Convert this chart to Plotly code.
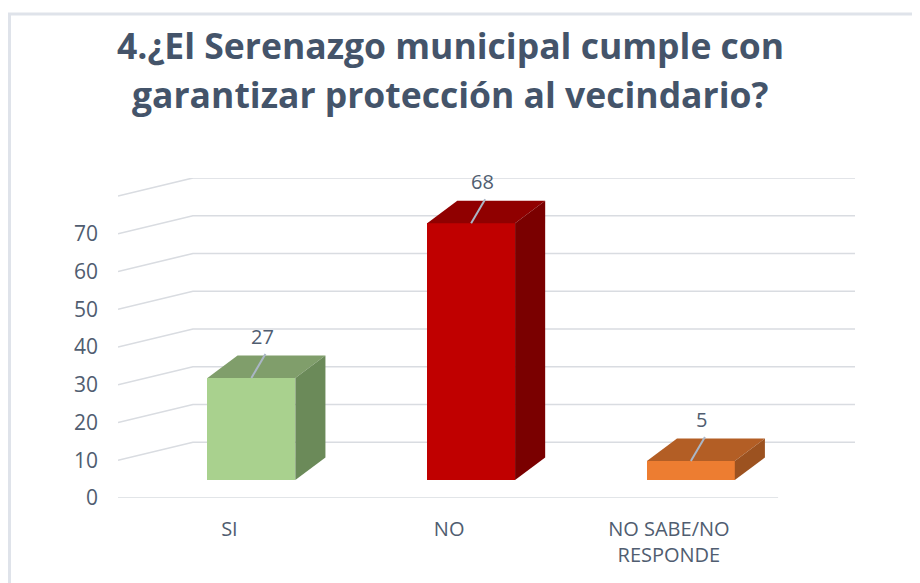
import plotly.graph_objects as go

# ---- data ----
categories = ["SI", "NO", "NO SABE/NO<br>RESPONDE"]
values = [27, 68, 5]
front_colors = ["#A9D18E", "#C00000", "#ED7D31"]
top_colors = ["#809E6B", "#900000", "#B35E25"]
side_colors = ["#6B8A59", "#7A0000", "#9C5220"]
y_ticks = [0, 10, 20, 30, 40, 50, 60, 70]
grid_levels = [0, 10, 20, 30, 40, 50, 60, 70, 80]
title_lines = ["4.¿El Serenazgo municipal cumple con",
               "garantizar protección al vecindario?"]

# ---- geometry / style constants (3-D look) ----
X_MIN, X_MAX = -0.607, 2.747      # x-axis range (category units)
Y_MAX = 80
FRONT_OFF = -4.77                 # front floor plane offset (value units)
WALL_DX = 0.341                   # depth of the wall (category units)
FLOOR_RIGHT = 2.397
BAR_W = 0.4
BAR_DX = 0.137                    # bar depth in x
BAR_DY = 5.96                     # bar depth in y
LEAD_DX, LEAD_DY = 0.064, 6.4
LABEL_SHIFT = -0.1
TXT = "#505D70"
GRID = "#D9DCE1"
FONT = "Open Sans"

fig = go.Figure()

# gridlines (side wall diagonals + back wall), kept below the bars
shapes = []
for v in grid_levels:
    if v == 0:
        path = f"M {X_MIN} {FRONT_OFF} L {FLOOR_RIGHT} {FRONT_OFF}"
    else:
        path = (f"M {X_MIN} {v + FRONT_OFF} L {X_MIN + WALL_DX} {v} "
                f"L {X_MAX} {v}")
    shapes.append(dict(type="path", xref="x", yref="y", path=path,
                       layer="below", line=dict(color=GRID, width=1.6)))

# chart frame
shapes.append(dict(type="path", xref="paper", yref="paper",
                   path="M -0.1472 -0.4 L -0.1472 1.5125 L 1.2 1.5125",
                   line=dict(color="#DFE3EA", width=3)))

positions = list(range(len(categories)))

# front faces
fig.add_trace(go.Bar(x=positions, y=values, width=BAR_W,
                     marker=dict(color=front_colors, line=dict(width=0)),
                     showlegend=False))

# top and side faces, leader lines and data labels
for p, v, tc, sc in zip(positions, values, top_colors, side_colors):
    l, r = p - BAR_W / 2, p + BAR_W / 2
    fig.add_trace(go.Scatter(
        x=[l, r, r + BAR_DX, l + BAR_DX, l],
        y=[v, v, v + BAR_DY, v + BAR_DY, v],
        fill="toself", fillcolor=tc, mode="lines",
        line=dict(width=0, color=tc), hoverinfo="skip", showlegend=False))
    fig.add_trace(go.Scatter(
        x=[r, r + BAR_DX, r + BAR_DX, r, r],
        y=[0, BAR_DY, v + BAR_DY, v, 0],
        fill="toself", fillcolor=sc, mode="lines",
        line=dict(width=0, color=sc), hoverinfo="skip", showlegend=False))
    fig.add_trace(go.Scatter(
        x=[p, p + LEAD_DX], y=[v, v + LEAD_DY], mode="lines",
        line=dict(color="#AAB6C6", width=2), hoverinfo="skip",
        showlegend=False))
    fig.add_annotation(x=p, y=v, text=str(v), showarrow=False,
                       xshift=11, yshift=42,
                       font=dict(family=FONT, size=20, color=TXT))

# title (two lines)
for line, ty in zip(title_lines, [1.415, 1.262]):
    fig.add_annotation(x=0.451, y=ty, xref="paper", yref="paper",
                       text=line, showarrow=False,
                       xanchor="center", yanchor="middle",
                       font=dict(family=FONT, size=35.5, color="#44546A",
                                 weight="bold"))

fig.update_layout(
    width=920, height=583,
    margin=dict(l=110, r=73, t=170, b=93, pad=0),
    paper_bgcolor="white", plot_bgcolor="white",
    xaxis=dict(range=[X_MIN, X_MAX], showgrid=False, zeroline=False,
               showline=False,
               tickvals=[p + LABEL_SHIFT for p in positions],
               ticktext=categories, ticks="", ticklabelstandoff=17,
               tickfont=dict(family=FONT, size=20, color=TXT)),
    yaxis=dict(range=[FRONT_OFF, Y_MAX], showgrid=False, zeroline=False,
               showline=False,
               tickvals=[t + FRONT_OFF for t in y_ticks],
               ticktext=[str(t) for t in y_ticks], ticks="",
               ticklabelstandoff=19,
               tickfont=dict(family=FONT, size=21, color=TXT)),
    bargap=0,
    showlegend=False,
    shapes=shapes,
)

fig.write_html("out.html")
